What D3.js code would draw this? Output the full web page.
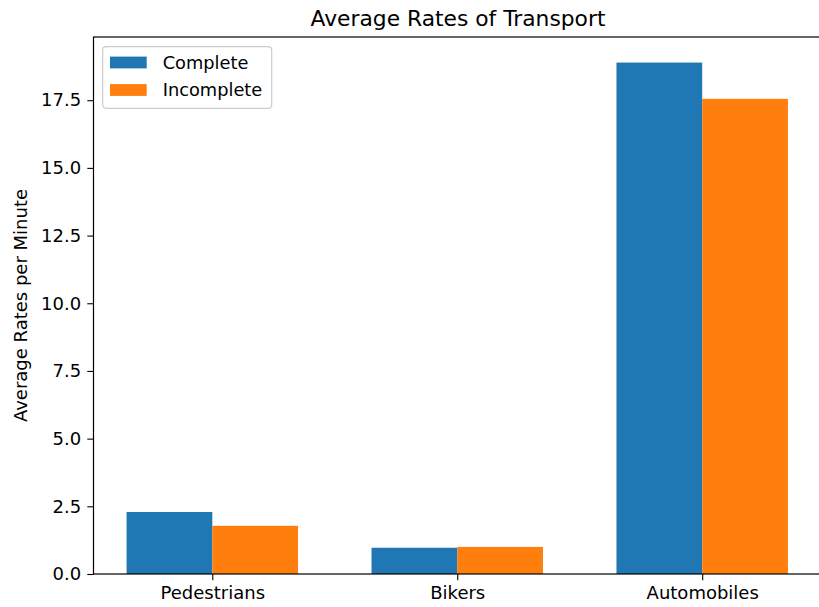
<!DOCTYPE html>
<html>
<head>
<meta charset="utf-8">
<script src="https://cdn.jsdelivr.net/npm/d3@7"></script>
<style>
  html, body { margin: 0; padding: 0; background: #fff; }
  svg { display: block; font-family: "DejaVu Sans", sans-serif; }
</style>
</head>
<body>
<svg id="chart" width="819" height="607"></svg>
<script>
// Transport categories and average rates per minute for each series
const categories = ["Pedestrians", "Bikers", "Automobiles"];
const completeRates = [2.29, 0.97, 18.89];
const incompleteRates = [1.78, 1.0, 17.55];
const seriesNames = ["Complete", "Incomplete"];
const seriesColors = ["#1f77b4", "#ff7f0e"];
const yTicks = [0.0, 2.5, 5.0, 7.5, 10.0, 12.5, 15.0, 17.5];

const chartTitle = "Average Rates of Transport";
const yLabel = "Average Rates per Minute";

const svg = d3.select("#chart");

// plot area
const plotLeft = 93.5, plotRight = 821, plotTop = 37, plotBottom = 574;
const barW = 0.35;

const series = [completeRates, incompleteRates];
const allVals = completeRates.concat(incompleteRates);
const yMax = d3.max(allVals) * 1.05;

const xMinD = -barW, xMaxD = categories.length - 1 + barW;
const xPad = (xMaxD - xMinD) * 0.05;
const x = d3.scaleLinear().domain([xMinD - xPad, xMaxD + xPad]).range([plotLeft, plotRight]);
const y = d3.scaleLinear().domain([0, yMax]).range([plotBottom, plotTop]);

// bars
series.forEach((vals, si) => {
  svg.append("g")
    .selectAll("rect")
    .data(vals)
    .join("rect")
    .attr("x", (d, i) => x(i + (si === 0 ? -barW : 0)))
    .attr("y", d => y(d))
    .attr("width", (d, i) => x(i + barW) - x(i))
    .attr("height", d => y(0) - y(d))
    .attr("fill", seriesColors[si]);
});

// axes
const tickLen = 6.2, tickPad = 6.2, fontSize = 18;

const yAxis = d3.axisLeft(y)
  .tickValues(yTicks)
  .tickFormat(d3.format(".1f"))
  .tickSize(tickLen)
  .tickPadding(tickPad);
const yG = svg.append("g").attr("transform", `translate(${plotLeft},0)`).call(yAxis);

const xAxis = d3.axisBottom(x)
  .tickValues(d3.range(categories.length))
  .tickFormat(i => categories[i])
  .tickSize(tickLen)
  .tickPadding(tickPad);
const xG = svg.append("g").attr("transform", `translate(0,${plotBottom})`).call(xAxis);

[yG, xG].forEach(g => {
  g.select(".domain").remove();
  g.selectAll(".tick line").attr("stroke", "#000").attr("stroke-width", 1.1);
  g.selectAll(".tick text")
    .attr("fill", "#000")
    .style("font-family", "'DejaVu Sans', sans-serif")
    .style("font-size", fontSize + "px");
});

// spines
svg.append("rect")
  .attr("x", plotLeft).attr("y", plotTop)
  .attr("width", plotRight - plotLeft).attr("height", plotBottom - plotTop)
  .attr("fill", "none").attr("stroke", "#000").attr("stroke-width", 1.2);

// title
svg.append("text")
  .attr("x", 458).attr("y", 26)
  .attr("text-anchor", "middle")
  .style("font-size", "21.8px")
  .text(chartTitle);

// y label
svg.append("text")
  .attr("transform", `translate(27,${(plotTop + plotBottom) / 2}) rotate(-90)`)
  .attr("text-anchor", "middle")
  .style("font-size", fontSize + "px")
  .text(yLabel);

// legend
const lg = svg.append("g");
lg.append("rect")
  .attr("x", 102.7).attr("y", 46.7)
  .attr("width", 169).attr("height", 61.6)
  .attr("rx", 3.5).attr("ry", 3.5)
  .attr("fill", "#fff").attr("fill-opacity", 0.8)
  .attr("stroke", "#ccc").attr("stroke-width", 1.2);
seriesNames.forEach((name, i) => {
  const cy = 62.5 + i * 27.5;
  lg.append("rect")
    .attr("x", 110).attr("y", cy - 5.9)
    .attr("width", 36.7).attr("height", 11.8)
    .attr("fill", seriesColors[i]);
  lg.append("text")
    .attr("x", 162.7).attr("y", cy)
    .attr("dy", "0.36em")
    .style("font-size", "17.8px")
    .text(name);
});
</script>
</body>
</html>
